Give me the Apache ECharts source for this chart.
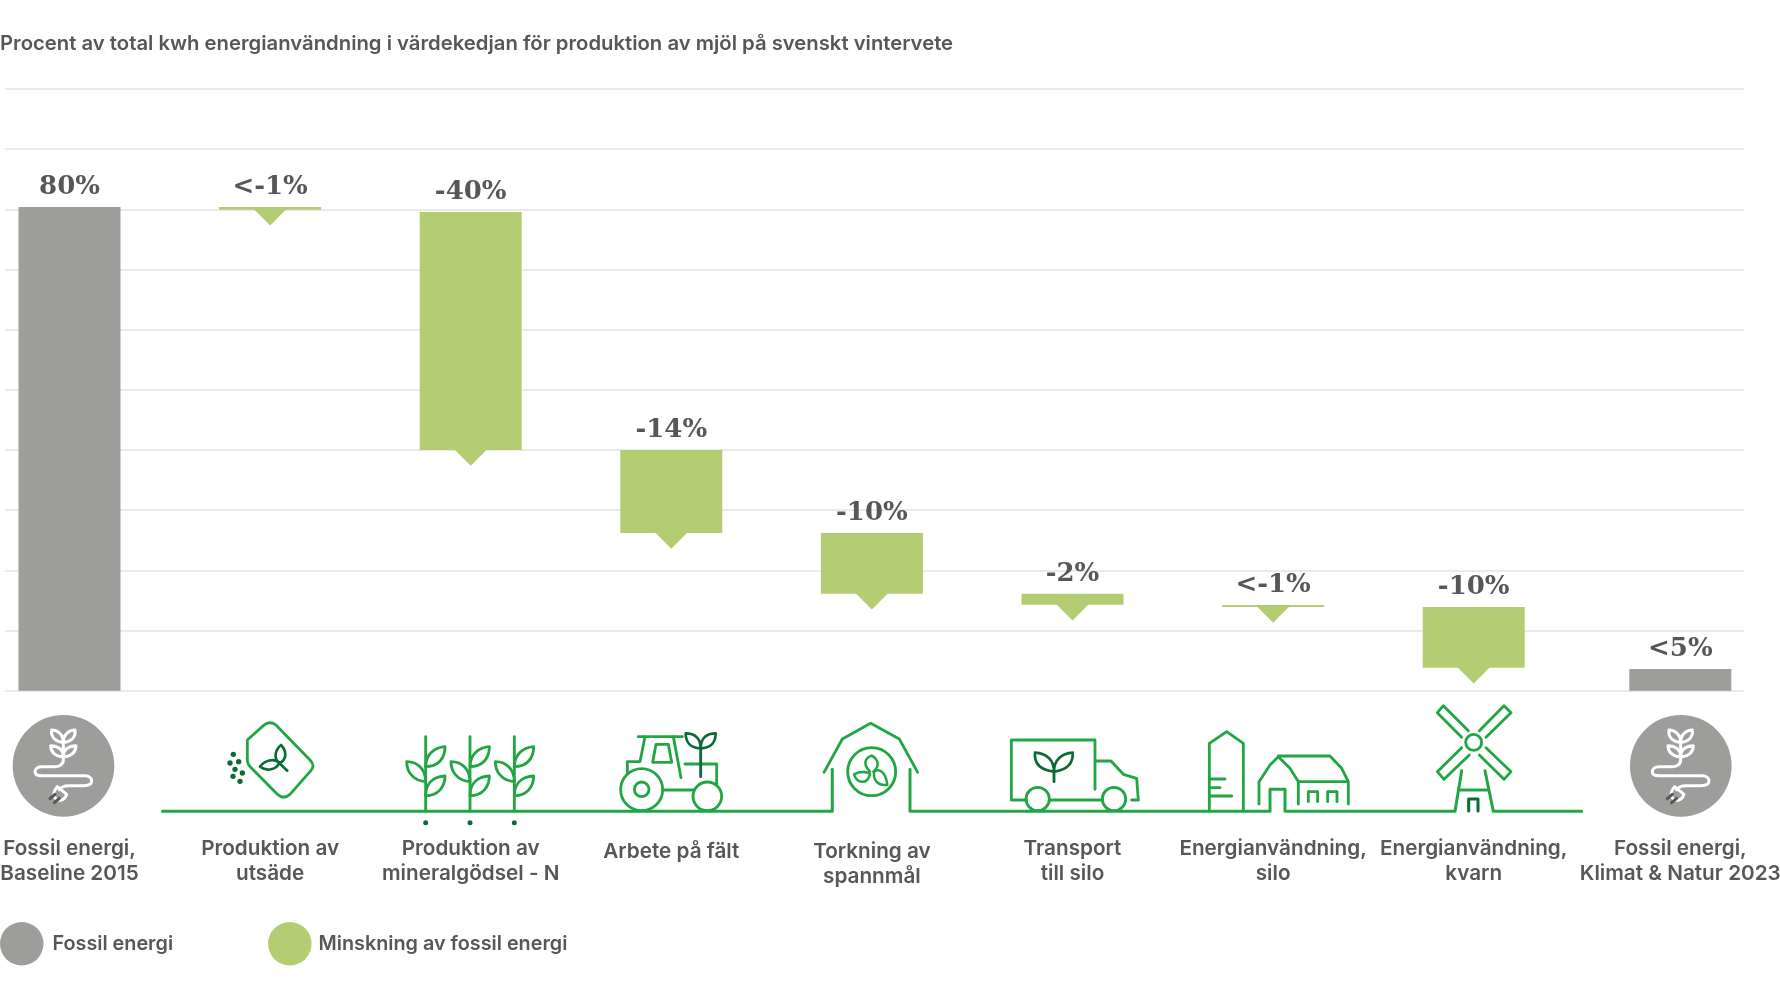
<!DOCTYPE html>
<html>
<head>
<meta charset="utf-8">
<title>Fossil energi</title>
<script src="https://cdn.jsdelivr.net/npm/echarts@6/dist/echarts.min.js"></script>
<style>
  html, body { margin: 0; padding: 0; background: #fff; }
  #main { width: 1780px; height: 1000px; }
</style>
</head>
<body>
<div id="main"></div>
<script>
var titleText = 'Procent av total kwh energianvändning i värdekedjan för produktion av mjöl på svenskt vintervete';
var categories = ['Fossil energi,\nBaseline 2015', 'Produktion av\nutsäde', 'Produktion av\nmineralgödsel - N', 'Arbete på fält', 'Torkning av\nspannmål', 'Transport\ntill silo', 'Energianvändning,\nsilo', 'Energianvändning,\nkvarn', 'Fossil energi,\nKlimat & Natur 2023'];
var valueLabels = ['80%', '<-1%', '-40%', '-14%', '-10%', '-2%', '<-1%', '-10%', '<5%'];
var fossilValues = [80.4, '-', '-', '-', '-', '-', '-', '-', 3.6];
var dropBase = ['-', 79.95, 40, 26.2, 16.1, 14.3, 13.9, 3.8, '-'];
var dropValues = ['-', 0.45, 39.55, 13.8, 10.1, 1.8, 0.35, 10.1, '-'];
var legendNames = ['Fossil energi', 'Minskning av fossil energi'];

var GREY = '#9d9d9c', LEAF = '#b4cd73', TEXT = '#575756', LINE = '#22a644', DARK = '#0b6b35';
var FONT = 'Inter';
var lastIdx = categories.length - 1;

// ikonerna ritas som enkla paths, koordinater uppskalade x3 (scale 1/3 i gruppen)
var shapeNo = 0;
function pathEl(d, color, width) {
  var name = 'ikon' + (shapeNo++);
  echarts.graphic.registerShape(name, echarts.graphic.extendPath(d));
  return {
    type: name, silent: true,
    style: { fill: 'none', stroke: color, lineWidth: width, lineCap: 'round', lineJoin: 'round' }
  };
}
function ring(cx, cy, r, color, width) {
  return { type: 'circle', silent: true, shape: { cx: cx, cy: cy, r: r }, style: { fill: 'none', stroke: color, lineWidth: width } };
}
function dot(cx, cy, r, color) {
  return { type: 'circle', silent: true, shape: { cx: cx, cy: cy, r: r }, style: { fill: color } };
}
function group(x, y, children) {
  return { type: 'group', x: x, y: y, scaleX: 1 / 3, scaleY: 1 / 3, silent: true, children: children };
}

function plugIcon(x) {
  return group(x, 705, [
    dot(190.5, 182.5, 152.5, GREY),
    pathEl('M190,112C165,110 152,95 155,75C175,75 190,90 190,112C215,110 228,95 225,75C205,75 190,90 190,112Z', '#fff', 9),
    pathEl('M190,155C165,155 152,140 152,122C175,122 190,135 190,155C215,155 228,140 228,122C205,122 190,135 190,155Z', '#fff', 9),
    pathEl('M190,112V165C190,180 175,185 165,185H125C110,185 105,195 105,200C105,210 115,212 125,212H255C270,212 275,222 275,228C275,240 262,242 250,242H205C190,242 182,248 178,254', '#fff', 9),
    pathEl('M172,245L200,268C195,285 178,290 168,282C158,272 160,258 172,245Z', '#fff', 9),
    pathEl('M165,268L150,281', TEXT, 9),
    pathEl('M178,280L163,293', TEXT, 9)
  ]);
}

var plantStroke = [];
[0, 133, 266].forEach(function (o) {
  var x = 92 + o;
  plantStroke.push(pathEl('M' + x + ',35V259', LINE, 8.5));
  plantStroke.push(pathEl('M' + x + ',125C' + (x + 38) + ',125 ' + (x + 58) + ',100 ' + (x + 58) + ',65C' + (x + 23) + ',68 ' + x + ',90 ' + x + ',125Z', LINE, 8.5));
  plantStroke.push(pathEl('M' + x + ',170C' + (x - 37) + ',168 ' + (x - 57) + ',140 ' + (x - 57) + ',110C' + (x - 22) + ',110 ' + x + ',135 ' + x + ',170Z', LINE, 8.5));
  plantStroke.push(pathEl('M' + x + ',212C' + (x + 38) + ',212 ' + (x + 58) + ',185 ' + (x + 58) + ',153C' + (x + 23) + ',155 ' + x + ',175 ' + x + ',212Z', LINE, 8.5));
  plantStroke.push(dot(x, 293, 7.5, DARK));
});

var icons = [
  // marklinjen genom alla steg
  { type: 'group', silent: true, children: [
    pathEl('M162.5,811.3H832.3V769.3', LINE, 3),
    pathEl('M910,769.3V811.3H1270V789.3H1285V811.3H1455L1461.7,770.7', LINE, 3),
    pathEl('M1485,770.7L1493.3,811.3H1581.7', LINE, 3)
  ] },
  plugIcon(0),
  plugIcon(1617.3),
  // utsäde
  group(0, 705, [
    pathEl('M742,105L790,62Q810,45 830,62L930,165Q948,183 930,200L870,268Q850,285 832,268L755,190Q742,178 742,165Z', LINE, 8.5),
    pathEl('M843,120C825,135 820,160 838,175C860,165 862,140 843,120Z', DARK, 8),
    pathEl('M780,185C795,165 820,160 838,172C830,195 800,200 780,185Z', DARK, 8),
    pathEl('M838,175L862,197', DARK, 8),
    dot(700, 148, 8, DARK), dot(716, 170, 8, DARK), dot(690, 174, 8, DARK), dot(705, 193, 8, DARK),
    dot(727, 204, 8, DARK), dot(699, 214, 8, DARK), dot(720, 229, 8, DARK)
  ]),
  // växter
  group(395, 725, plantStroke),
  // traktor
  group(395, 725, [
    pathEl('M730,35H862', LINE, 8.5),
    pathEl('M750,35L735,110H697V142', LINE, 8.5),
    pathEl('M835,35L858,158', LINE, 8.5),
    pathEl('M783,58H820L830,112H773Z', LINE, 8.5),
    ring(740, 194, 63, LINE, 8.5),
    ring(740, 193, 22, LINE, 8.5),
    ring(937, 214, 43, LINE, 8.5),
    pathEl('M805,195H895', LINE, 8.5),
    pathEl('M870,117H965V180', LINE, 8.5),
    pathEl('M917,70V155', DARK, 8.5),
    pathEl('M917,70C885,70 872,50 872,25C900,25 917,40 917,70C950,70 962,50 962,25C935,25 917,40 917,70Z', DARK, 8)
  ]),
  // lada med fläkt och lastbil
  group(810, 715, [
    pathEl('M42,172L97,72L182,25L268,72L323,172', LINE, 8.5),
    ring(185, 170, 72, LINE, 8.5),
    pathEl('M180,170C160,150 162,130 185,122C208,135 208,155 190,170', LINE, 7.5),
    pathEl('M132,178C150,168 175,170 180,178C172,208 142,208 132,178Z', LINE, 7.5),
    pathEl('M193,168C215,158 228,180 232,209C205,214 187,195 193,168Z', LINE, 7.5),
    pathEl('M855,223V75H604V255H650', LINE, 8.5),
    pathEl('M718,255H878', LINE, 8.5),
    ring(683, 252, 35, LINE, 8.5),
    ring(912, 252, 35, LINE, 8.5),
    pathEl('M858,138H903L940,178L980,190L985,255H965', LINE, 8.5),
    pathEl('M732,200V170', DARK, 8.5),
    pathEl('M732,170C690,165 672,145 675,113C710,115 732,135 732,170C770,165 790,145 788,113C755,115 732,135 732,170Z', DARK, 8)
  ]),
  // silo, gård och kvarn
  group(1190, 700, [
    pathEl('M58,333V130L110,95L160,130V333', LINE, 8.5),
    pathEl('M58,237H105M58,263H90M58,288H125', LINE, 8.5),
    pathEl('M207,312V245L240,195L265,170L300,205L325,245V312', LINE, 8.5),
    pathEl('M265,168H420L455,205L475,245H325M475,245V312', LINE, 8.5),
    pathEl('M355,305V275H383V305M413,305V275H441V305', LINE, 8.5),
    ring(851, 127, 24, LINE, 8.5),
    pathEl('M835,92L760,17L742,38L815,112', LINE, 8.5),
    pathEl('M868,92L942,17L963,38L888,112', LINE, 8.5),
    pathEl('M815,143L742,215L762,238L838,165', LINE, 8.5),
    pathEl('M888,143L963,215L942,238L868,165', LINE, 8.5),
    pathEl('M805,270H895', LINE, 8.5),
    pathEl('M836,333V297H864V333', DARK, 9)
  ])
];

var barLabel = {
  show: true, position: 'top', distance: 7,
  fontFamily: 'DejaVu Serif', fontWeight: 'bold', fontSize: 26, color: TEXT,
  formatter: function (p) { return valueLabels[p.dataIndex]; }
};

var labelShift = { 3: [3, 0, 0, 0], 4: [3, 0, 0, 0], 8: [0, 0, 0, 12] };
var categoryData = categories.map(function (c, i) {
  return labelShift[i] ? { value: c, textStyle: { padding: labelShift[i] } } : c;
});
var legendPad = [[0, 0, 0, 4], [0, 0, 0, 2]];

var gridTop = 89, gridHeight = 601.7;
var chart = echarts.init(document.getElementById('main'));
chart.setOption({
  animation: false,
  title: {
    text: titleText, left: 0, top: 34, padding: 0,
    textStyle: { fontFamily: FONT, fontSize: 20.3, fontWeight: 600, color: TEXT }
  },
  legend: {
    left: 0, top: 922, padding: 0, icon: 'circle', itemWidth: 43.5, itemHeight: 43.5, itemGap: 95,
    selectedMode: false,
    data: legendNames.map(function (n, i) { return { name: n, textStyle: { padding: legendPad[i] } }; }),
    textStyle: { fontFamily: FONT, fontSize: 19.8, fontWeight: 600, color: TEXT }
  },
  grid: [
    { left: -30.8, width: 1805.4, top: gridTop, height: gridHeight, outerBoundsMode: 'none' },
    { left: 5, width: 1739, top: gridTop, height: gridHeight, outerBoundsMode: 'none' },
    { left: -24.8, width: 1805.4, top: gridTop, height: gridHeight, outerBoundsMode: 'none' }
  ],
  xAxis: [
    {
      type: 'category', gridIndex: 0, data: categoryData,
      axisLine: { show: false }, axisTick: { show: false },
      axisLabel: {
        interval: 0, margin: 146, lineHeight: 25,
        fontFamily: FONT, fontSize: 20.7, fontWeight: 600, color: TEXT
      }
    },
    { type: 'category', gridIndex: 1, data: categories, show: false },
    { type: 'category', gridIndex: 2, data: categories, show: false }
  ],
  yAxis: [
    { type: 'value', gridIndex: 0, min: 0, max: 100, show: false },
    {
      type: 'value', gridIndex: 1, min: 0, max: 100, interval: 10,
      axisLine: { show: false }, axisTick: { show: false }, axisLabel: { show: false },
      splitLine: { show: true, lineStyle: { color: '#e3e3e3', width: 1.5 } }
    },
    { type: 'value', gridIndex: 2, min: 0, max: 100, show: false }
  ],
  graphic: { elements: icons },
  series: [
    {
      name: 'bas', type: 'bar', stack: 'v', barWidth: 102, silent: true,
      itemStyle: { color: 'transparent' }, data: dropBase
    },
    {
      name: legendNames[0], type: 'bar', stack: 'v', barWidth: 102,
      itemStyle: { color: GREY }, label: barLabel,
      data: fossilValues.map(function (v, i) { return i < lastIdx ? v : '-'; })
    },
    {
      name: legendNames[1], type: 'bar', stack: 'v', barWidth: 102,
      itemStyle: { color: LEAF }, label: barLabel, data: dropValues
    },
    {
      // spetsen under varje minskning
      name: 'spets', type: 'scatter', symbol: 'path://M0,0H2L1,1Z', symbolSize: [33, 16.5], symbolOffset: [0, 7.5],
      itemStyle: { color: LEAF, opacity: 1 }, silent: true, data: dropBase
    },
    {
      // sista stapeln ligger lite utanför rytmen i originalet
      name: legendNames[0], type: 'bar', xAxisIndex: 2, yAxisIndex: 2, barWidth: 102,
      itemStyle: { color: GREY }, label: barLabel,
      data: fossilValues.map(function (v, i) { return i === lastIdx ? v : '-'; })
    }
  ]
});
</script>
</body>
</html>
